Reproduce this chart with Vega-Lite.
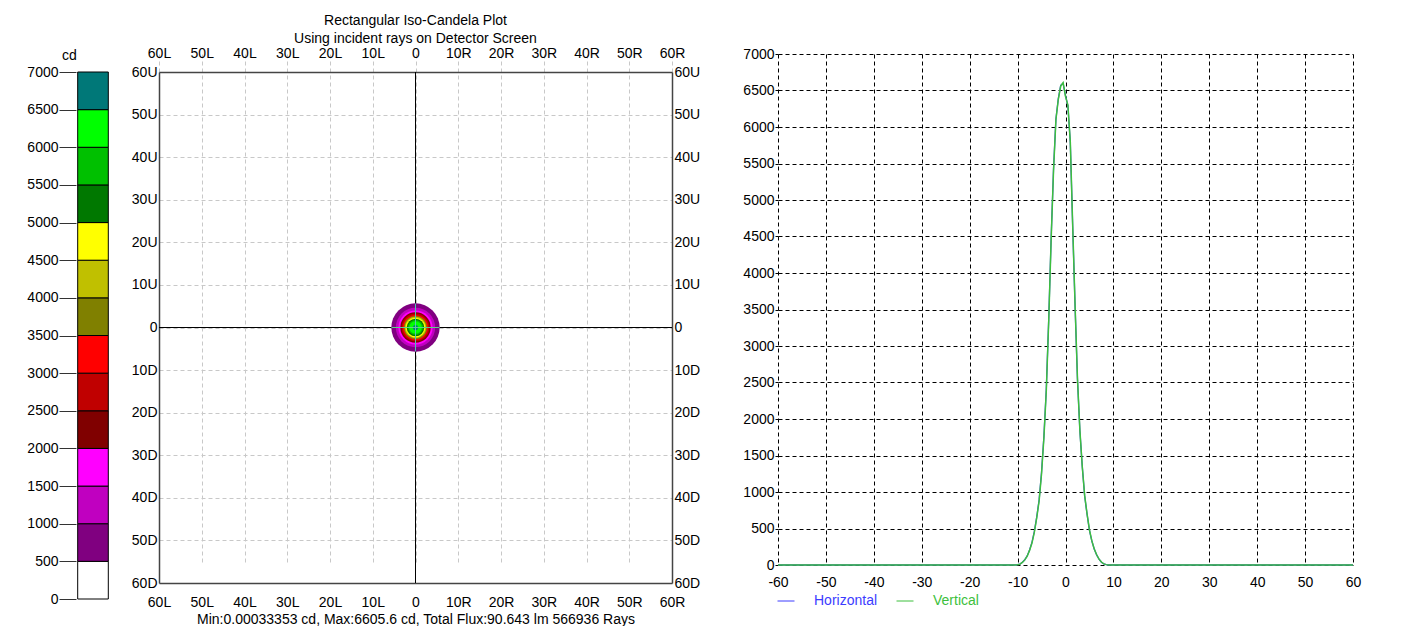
{
  "$schema": "https://vega.github.io/schema/vega-lite/v6.json",
  "background": "white",
  "padding": {"left": 26, "top": 14, "right": 5, "bottom": 0},
  "config": {
    "font": "Liberation Sans",
    "view": {"stroke": null},
    "axis": {"labelFont": "Liberation Sans", "labelFontSize": 14, "labelColor": "#000", "titleFont": "Liberation Sans", "titleFontSize": 14, "titleFontWeight": "normal", "titleColor": "#000", "labelFlush": false, "labelOverlap": false},
    "legend": {"labelFont": "Liberation Sans", "labelFontSize": 14},
    "title": {"font": "Liberation Sans", "fontSize": 14, "fontWeight": "normal", "color": "#000"}
  },
  "datasets": {
    "levels": [
      {"lo": 0, "hi": 500}, {"lo": 500, "hi": 1000}, {"lo": 1000, "hi": 1500}, {"lo": 1500, "hi": 2000},
      {"lo": 2000, "hi": 2500}, {"lo": 2500, "hi": 3000}, {"lo": 3000, "hi": 3500}, {"lo": 3500, "hi": 4000},
      {"lo": 4000, "hi": 4500}, {"lo": 4500, "hi": 5000}, {"lo": 5000, "hi": 5500}, {"lo": 5500, "hi": 6000},
      {"lo": 6000, "hi": 6500}, {"lo": 6500, "hi": 7000}
    ],
    "rings": [
      {"lo": 500, "r": 5.65, "cx": 0, "cy": 0}, {"lo": 1000, "r": 4.6, "cx": 0, "cy": 0},
      {"lo": 1500, "r": 4.0, "cx": 0, "cy": 0}, {"lo": 2000, "r": 3.55, "cx": 0, "cy": 0},
      {"lo": 2500, "r": 3.25, "cx": 0, "cy": 0}, {"lo": 3000, "r": 2.95, "cx": 0, "cy": 0},
      {"lo": 3500, "r": 2.7, "cx": 0, "cy": 0}, {"lo": 4000, "r": 2.5, "cx": 0, "cy": 0},
      {"lo": 4500, "r": 2.3, "cx": 0, "cy": 0}, {"lo": 5000, "r": 2.05, "cx": 0, "cy": 0},
      {"lo": 5500, "r": 1.75, "cx": 0, "cy": 0}, {"lo": 6000, "r": 1.45, "cx": 0, "cy": 0},
      {"lo": 6500, "r": 0.6, "cx": 0, "cy": 0}
    ],
    "profile": [
      {"series": "Horizontal", "x": -60, "v": 0}, {"series": "Horizontal", "x": -10.5, "v": 0},
      {"series": "Horizontal", "x": -10, "v": 4}, {"series": "Horizontal", "x": -9.5, "v": 13},
      {"series": "Horizontal", "x": -9, "v": 37}, {"series": "Horizontal", "x": -8.5, "v": 72},
      {"series": "Horizontal", "x": -8, "v": 125}, {"series": "Horizontal", "x": -7.5, "v": 205},
      {"series": "Horizontal", "x": -7, "v": 310}, {"series": "Horizontal", "x": -6.5, "v": 460},
      {"series": "Horizontal", "x": -6, "v": 660}, {"series": "Horizontal", "x": -5.5, "v": 895},
      {"series": "Horizontal", "x": -5, "v": 1270}, {"series": "Horizontal", "x": -4.5, "v": 1770},
      {"series": "Horizontal", "x": -4, "v": 2420}, {"series": "Horizontal", "x": -3.5, "v": 3370},
      {"series": "Horizontal", "x": -3, "v": 4470}, {"series": "Horizontal", "x": -2.5, "v": 5420},
      {"series": "Horizontal", "x": -2, "v": 6110}, {"series": "Horizontal", "x": -1.5, "v": 6390},
      {"series": "Horizontal", "x": -1, "v": 6570}, {"series": "Horizontal", "x": -0.5, "v": 6600},
      {"series": "Horizontal", "x": 0, "v": 6430}, {"series": "Horizontal", "x": 0.5, "v": 6290},
      {"series": "Horizontal", "x": 1, "v": 5790}, {"series": "Horizontal", "x": 1.5, "v": 4640},
      {"series": "Horizontal", "x": 2, "v": 3540}, {"series": "Horizontal", "x": 2.5, "v": 2540},
      {"series": "Horizontal", "x": 3, "v": 1840}, {"series": "Horizontal", "x": 3.5, "v": 1345},
      {"series": "Horizontal", "x": 4, "v": 945}, {"series": "Horizontal", "x": 4.5, "v": 695},
      {"series": "Horizontal", "x": 5, "v": 475}, {"series": "Horizontal", "x": 5.5, "v": 328},
      {"series": "Horizontal", "x": 6, "v": 218}, {"series": "Horizontal", "x": 6.5, "v": 138},
      {"series": "Horizontal", "x": 7, "v": 79}, {"series": "Horizontal", "x": 7.5, "v": 39},
      {"series": "Horizontal", "x": 8, "v": 15}, {"series": "Horizontal", "x": 8.5, "v": 5},
      {"series": "Horizontal", "x": 9, "v": 0}, {"series": "Horizontal", "x": 60, "v": 0},
      {"series": "Vertical", "x": -60, "v": 0}, {"series": "Vertical", "x": -10.5, "v": 0},
      {"series": "Vertical", "x": -10, "v": 3}, {"series": "Vertical", "x": -9.5, "v": 12},
      {"series": "Vertical", "x": -9, "v": 35}, {"series": "Vertical", "x": -8.5, "v": 70},
      {"series": "Vertical", "x": -8, "v": 120}, {"series": "Vertical", "x": -7.5, "v": 200},
      {"series": "Vertical", "x": -7, "v": 300}, {"series": "Vertical", "x": -6.5, "v": 450},
      {"series": "Vertical", "x": -6, "v": 650}, {"series": "Vertical", "x": -5.5, "v": 880},
      {"series": "Vertical", "x": -5, "v": 1250}, {"series": "Vertical", "x": -4.5, "v": 1750},
      {"series": "Vertical", "x": -4, "v": 2400}, {"series": "Vertical", "x": -3.5, "v": 3350},
      {"series": "Vertical", "x": -3, "v": 4450}, {"series": "Vertical", "x": -2.5, "v": 5400},
      {"series": "Vertical", "x": -2, "v": 6100}, {"series": "Vertical", "x": -1.5, "v": 6380},
      {"series": "Vertical", "x": -1, "v": 6560}, {"series": "Vertical", "x": -0.5, "v": 6606},
      {"series": "Vertical", "x": 0, "v": 6420}, {"series": "Vertical", "x": 0.5, "v": 6300},
      {"series": "Vertical", "x": 1, "v": 5800}, {"series": "Vertical", "x": 1.5, "v": 4650},
      {"series": "Vertical", "x": 2, "v": 3550}, {"series": "Vertical", "x": 2.5, "v": 2550},
      {"series": "Vertical", "x": 3, "v": 1850}, {"series": "Vertical", "x": 3.5, "v": 1350},
      {"series": "Vertical", "x": 4, "v": 950}, {"series": "Vertical", "x": 4.5, "v": 700},
      {"series": "Vertical", "x": 5, "v": 480}, {"series": "Vertical", "x": 5.5, "v": 330},
      {"series": "Vertical", "x": 6, "v": 220}, {"series": "Vertical", "x": 6.5, "v": 140},
      {"series": "Vertical", "x": 7, "v": 80}, {"series": "Vertical", "x": 7.5, "v": 40},
      {"series": "Vertical", "x": 8, "v": 15}, {"series": "Vertical", "x": 8.5, "v": 5},
      {"series": "Vertical", "x": 9, "v": 0}, {"series": "Vertical", "x": 60, "v": 0}
    ]
  },
  "hconcat": [
    {
      "width": 34,
      "height": 545,
      "data": {"name": "levels"},
      "mark": {"type": "bar", "stroke": "#000", "strokeWidth": 1},
      "encoding": {
        "y": {
          "field": "lo", "type": "quantitative",
          "scale": {"domain": [0, 7000], "range": [545, 18], "nice": false, "zero": false},
          "axis": {"values": [0, 500, 1000, 1500, 2000, 2500, 3000, 3500, 4000, 4500, 5000, 5500, 6000, 6500, 7000],
                   "labelExpr": "'' + datum.value",
                   "ticks": true, "tickSize": 17, "tickColor": "#333", "tickWidth": 1, "labelPadding": 1,
                   "domain": false, "grid": false, "title": "cd", "titleAngle": 0, "titleAlign": "center",
                   "titleBaseline": "bottom", "titleX": -7, "titleY": 8}
        },
        "y2": {"field": "hi"},
        "color": {
          "field": "lo", "type": "ordinal",
          "scale": {"domain": [0, 500, 1000, 1500, 2000, 2500, 3000, 3500, 4000, 4500, 5000, 5500, 6000, 6500],
                    "range": ["#ffffff", "#800080", "#c000c0", "#ff00ff", "#800000", "#c00000", "#ff0000", "#808000", "#c0c000", "#ffff00", "#007800", "#00c000", "#00ff00", "#007878"]},
          "legend": null
        }
      }
    },
    {
      "width": 513,
      "height": 529,
      "title": {"text": ["Rectangular Iso-Candela Plot", "Using incident rays on Detector Screen"], "lineHeight": 18, "offset": 0, "frame": "group"},
      "layer": [
        {
          "data": {"values": [{"x": 0, "y": -60, "y2": 60}]},
          "mark": {"type": "rule", "color": "#000", "strokeWidth": 1},
          "encoding": {
            "x": {"field": "x", "type": "quantitative",
                  "scale": {"domain": [-60, 60], "nice": false, "zero": false},
                  "axis": {"orient": "top", "offset": -18, "values": [-60, -50, -40, -30, -20, -10, 0, 10, 20, 30, 40, 50, 60],
                           "labelExpr": "datum.value < 0 ? (-datum.value) + 'L' : (datum.value > 0 ? datum.value + 'R' : '0')",
                           "grid": false, "ticks": false, "domain": true, "domainColor": "#444", "domainWidth": 1.5, "labelPadding": 12, "title": null}},
            "y": {"field": "y", "type": "quantitative",
                  "scale": {"domain": [-60, 60], "range": [529, 18], "nice": false, "zero": false},
                  "axis": {"orient": "right", "values": [-60, -50, -40, -30, -20, -10, 0, 10, 20, 30, 40, 50, 60],
                           "labelExpr": "datum.value > 0 ? datum.value + 'U' : (datum.value < 0 ? (-datum.value) + 'D' : '0')",
                           "grid": false, "ticks": false, "domain": true, "domainColor": "#444", "domainWidth": 1.5, "labelPadding": 2, "title": null}},
            "y2": {"field": "y2"}
          }
        },
        {
          "data": {"values": [{"x": -60, "x2": 60, "y": 0}]},
          "mark": {"type": "rule", "color": "#000", "strokeWidth": 1},
          "encoding": {
            "x": {"field": "x", "type": "quantitative", "axis": null},
            "x2": {"field": "x2"},
            "y": {"field": "y", "type": "quantitative", "axis": null}
          }
        },
        {
          "data": {"name": "rings"},
          "mark": {"type": "point", "filled": true, "shape": "circle", "opacity": 1, "strokeWidth": 0},
          "encoding": {
            "x": {"field": "cx", "type": "quantitative",
                  "axis": {"orient": "bottom", "values": [-60, -50, -40, -30, -20, -10, 0, 10, 20, 30, 40, 50, 60],
                           "labelExpr": "datum.value < 0 ? (-datum.value) + 'L' : (datum.value > 0 ? datum.value + 'R' : '0')",
                           "grid": true, "gridColor": "#c8c8c8", "gridDash": [4, 3], "gridWidth": 1,
                           "ticks": false, "domain": true, "domainColor": "#444", "domainWidth": 1.5, "labelPadding": 12,
                           "title": "Min:0.00033353 cd, Max:6605.6 cd, Total Flux:90.643 lm 566936 Rays", "titlePadding": 3}},
            "y": {"field": "cy", "type": "quantitative",
                  "axis": {"orient": "left", "values": [-60, -50, -40, -30, -20, -10, 0, 10, 20, 30, 40, 50, 60],
                           "labelExpr": "datum.value > 0 ? datum.value + 'U' : (datum.value < 0 ? (-datum.value) + 'D' : '0')",
                           "grid": true, "gridColor": "#c8c8c8", "gridDash": [4, 3], "gridWidth": 1,
                           "ticks": false, "domain": true, "domainColor": "#444", "domainWidth": 1.5, "labelPadding": 2, "title": null}},
            "size": {"field": "r", "type": "quantitative",
                     "scale": {"type": "pow", "exponent": 2, "domain": [0, 10], "range": [0, 7310]}, "legend": null},
            "color": {"field": "lo", "type": "ordinal",
                      "scale": {"domain": [0, 500, 1000, 1500, 2000, 2500, 3000, 3500, 4000, 4500, 5000, 5500, 6000, 6500],
                                "range": ["#ffffff", "#800080", "#c000c0", "#ff00ff", "#800000", "#c00000", "#ff0000", "#808000", "#c0c000", "#ffff00", "#007800", "#00c000", "#00ff00", "#007878"]},
                      "legend": null}
          }
        },
        {
          "data": {"values": [{"x": 0, "y": -5.6, "y2": 5.6}]},
          "mark": {"type": "rule", "color": "#4cc9b0", "strokeWidth": 1},
          "encoding": {
            "x": {"field": "x", "type": "quantitative", "axis": null},
            "y": {"field": "y", "type": "quantitative", "axis": null},
            "y2": {"field": "y2"}
          }
        },
        {
          "data": {"values": [{"x": -5.6, "x2": 5.6, "y": 0}]},
          "mark": {"type": "rule", "color": "#5ccf8c", "strokeWidth": 1},
          "encoding": {
            "x": {"field": "x", "type": "quantitative", "axis": null},
            "x2": {"field": "x2"},
            "y": {"field": "y", "type": "quantitative", "axis": null}
          }
        }
      ],
      "resolve": {"axis": {"x": "independent", "y": "independent"}}
    },
    {
      "width": 632,
      "height": 511,
      "data": {"name": "profile"},
      "encoding": {
        "x": {"field": "x", "type": "quantitative",
              "scale": {"domain": [-60, 60], "range": [57, 632], "nice": false, "zero": false},
              "axis": {"values": [-60, -50, -40, -30, -20, -10, 0, 10, 20, 30, 40, 50, 60],
                       "labelExpr": "'' + datum.value",
                       "grid": true, "gridColor": "#000", "gridDash": [4, 3], "gridWidth": 1,
                       "domain": false, "ticks": false, "labelPadding": 10, "title": null}},
        "y": {"field": "v", "type": "quantitative",
              "scale": {"domain": [0, 7000], "nice": false},
              "axis": {"values": [0, 500, 1000, 1500, 2000, 2500, 3000, 3500, 4000, 4500, 5000, 5500, 6000, 6500, 7000],
                       "labelExpr": "'' + datum.value",
                       "grid": true, "gridColor": "#000", "gridDash": [4, 3], "gridWidth": 1,
                       "domain": false, "ticks": true, "tickSize": 3, "tickColor": "#000", "labelPadding": 1,
                       "offset": -57, "title": null}},
        "color": {"field": "series", "type": "nominal",
                  "scale": {"domain": ["Horizontal", "Vertical"], "range": ["#3c3cff", "#3dbf3d"]},
                  "legend": {"orient": "none", "legendX": 56, "legendY": 538, "direction": "horizontal", "title": null,
                             "symbolType": "stroke", "symbolSize": 289, "symbolStrokeWidth": 1,
                             "labelFontSize": 14, "labelOffset": 19, "columnPadding": 16, "padding": 0,
                             "encode": {"labels": {"update": {"fill": {"signal": "datum.value === 'Horizontal' ? '#3c3cff' : '#3dbf3d'"}}}}}}
      },
      "layer": [
        {"transform": [{"filter": "datum.series === 'Horizontal'"}], "mark": {"type": "line", "strokeWidth": 1.3}},
        {"transform": [{"filter": "datum.series === 'Vertical'"}], "mark": {"type": "line", "strokeWidth": 1.5}}
      ]
    }
  ],
  "spacing": 49,
  "bounds": "flush",
  "resolve": {"scale": {"color": "independent", "size": "independent"}, "legend": {"color": "independent", "size": "independent"}}
}
